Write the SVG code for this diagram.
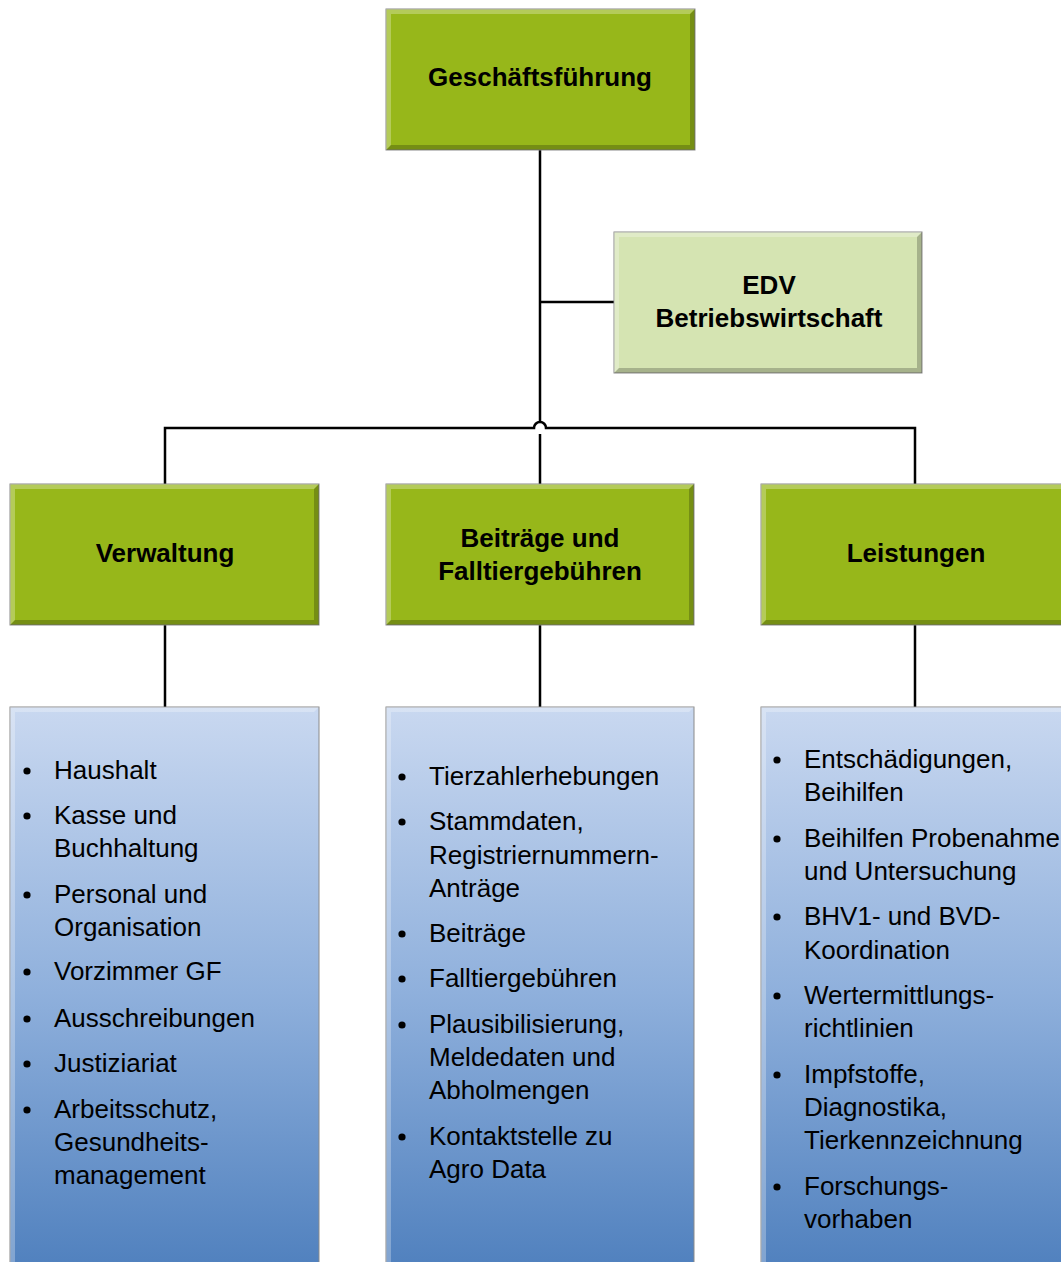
<svg xmlns="http://www.w3.org/2000/svg" width="1061" height="1262" viewBox="0 0 1061 1262">
<defs>
<linearGradient id="blue" x1="0" y1="0" x2="0" y2="1">
<stop offset="0" stop-color="#c9d8f0"/>
<stop offset="0.5" stop-color="#8fb0dc"/>
<stop offset="1" stop-color="#4e7fbd"/>
</linearGradient>
<style>
.g{fill:#97b71a;stroke:#8a8a8a;stroke-width:1}
.l{fill:#d5e4b2;stroke:#8a8a8a;stroke-width:1}
.b{fill:url(#blue);stroke:#8a8a8a;stroke-width:1}
.hi{fill:#ffffff;opacity:0.28}
.sh{fill:#000000;opacity:0.22}
.t{font-family:"Liberation Sans",Arial,sans-serif;font-size:26px;font-weight:bold;fill:#000;text-anchor:middle}
.x{font-family:"Liberation Sans",Arial,sans-serif;font-size:26px;fill:#000}
.c{fill:none;stroke:#000;stroke-width:2.5}
</style>
</defs>
<rect width="1061" height="1262" fill="#fff"/>
<g id="connectors">
<path class="c" d="M540 150 V422 M540 434 V485"/>
<path class="c" d="M540 302 H614"/>
<path class="c" d="M165 485 V428 H534 A6 6 0 0 1 546 428 H915 V485"/>
<path class="c" d="M165 625 V708 M540 625 V708 M915 625 V708"/>
</g>
<g id="n-gf">
<rect class="g" x="386" y="9" width="309" height="141"/>
<path class="hi" d="M386 9 H695 L690 14 H391 V145 L386 150 Z"/>
<path class="sh" d="M695 9 V150 H386 L391 145 H690 V14 Z"/>
<text class="t" x="540" y="86">Geschäftsführung</text>
</g>
<g id="n-edv">
<rect class="l" x="614" y="232" width="308" height="141"/>
<path class="hi" d="M614 232 H922 L917 237 H619 V368 L614 373 Z"/>
<path class="sh" d="M922 232 V373 H614 L619 368 H917 V237 Z" opacity="0.12"/>
<text class="t" x="769" y="294">EDV</text>
<text class="t" x="769" y="327">Betriebswirtschaft</text>
</g>
<g id="n-verw">
<rect class="g" x="10" y="484" width="309" height="141"/>
<path class="hi" d="M10 484 H319 L314 489 H15 V620 L10 625 Z"/>
<path class="sh" d="M319 484 V625 H10 L15 620 H314 V489 Z"/>
<text class="t" x="165" y="562">Verwaltung</text>
</g>
<g id="n-beit">
<rect class="g" x="386" y="484" width="308" height="141"/>
<path class="hi" d="M386 484 H694 L689 489 H391 V620 L386 625 Z"/>
<path class="sh" d="M694 484 V625 H386 L391 620 H689 V489 Z"/>
<text class="t" x="540" y="547">Beiträge und</text>
<text class="t" x="540" y="580">Falltiergebühren</text>
</g>
<g id="n-leist">
<rect class="g" x="761" y="484" width="310" height="141"/>
<path class="hi" d="M761 484 H1071 L1066 489 H766 V620 L761 625 Z"/>
<path class="sh" d="M1071 484 V625 H761 L766 620 H1066 V489 Z"/>
<text class="t" x="916" y="562">Leistungen</text>
</g>
<g id="n-verw-list">
<rect class="b" x="10" y="707" width="309" height="570"/>
<path class="hi" d="M10 707 H319 L314 712 H15 V1270 L10 1275 Z"/>
<g class="x">
<circle cx="27" cy="771" r="3.6"/><text x="54" y="779">Haushalt</text>
<circle cx="27" cy="816" r="3.6"/><text x="54" y="824">Kasse und</text><text x="54" y="857">Buchhaltung</text>
<circle cx="27" cy="895" r="3.6"/><text x="54" y="903">Personal und</text><text x="54" y="936">Organisation</text>
<circle cx="27" cy="972" r="3.6"/><text x="54" y="980">Vorzimmer GF</text>
<circle cx="27" cy="1019" r="3.6"/><text x="54" y="1027">Ausschreibungen</text>
<circle cx="27" cy="1064" r="3.6"/><text x="54" y="1072">Justiziariat</text>
<circle cx="27" cy="1110" r="3.6"/><text x="54" y="1118">Arbeitsschutz,</text><text x="54" y="1151">Gesundheits-</text><text x="54" y="1184">management</text>
</g>
</g>
<g id="n-beit-list">
<rect class="b" x="386" y="707" width="308" height="570"/>
<path class="hi" d="M386 707 H694 L689 712 H391 V1270 L386 1275 Z"/>
<g class="x">
<circle cx="402" cy="777" r="3.6"/><text x="429" y="785">Tierzahlerhebungen</text>
<circle cx="402" cy="822" r="3.6"/><text x="429" y="830">Stammdaten,</text><text x="429" y="864">Registriernummern-</text><text x="429" y="897">Anträge</text>
<circle cx="402" cy="934" r="3.6"/><text x="429" y="942">Beiträge</text>
<circle cx="402" cy="979" r="3.6"/><text x="429" y="987">Falltiergebühren</text>
<circle cx="402" cy="1025" r="3.6"/><text x="429" y="1033">Plausibilisierung,</text><text x="429" y="1066">Meldedaten und</text><text x="429" y="1099">Abholmengen</text>
<circle cx="402" cy="1137" r="3.6"/><text x="429" y="1145">Kontaktstelle zu</text><text x="429" y="1178">Agro Data</text>
</g>
</g>
<g id="n-leist-list">
<rect class="b" x="761" y="707" width="310" height="570"/>
<path class="hi" d="M761 707 H1071 L1066 712 H766 V1270 L761 1275 Z"/>
<g class="x">
<circle cx="777" cy="760" r="3.6"/><text x="804" y="768">Entschädigungen,</text><text x="804" y="801">Beihilfen</text>
<circle cx="777" cy="839" r="3.6"/><text x="804" y="847">Beihilfen Probenahme</text><text x="804" y="880">und Untersuchung</text>
<circle cx="777" cy="917" r="3.6"/><text x="804" y="925">BHV1- und BVD-</text><text x="804" y="959">Koordination</text>
<circle cx="777" cy="996" r="3.6"/><text x="804" y="1004">Wertermittlungs-</text><text x="804" y="1037">richtlinien</text>
<circle cx="777" cy="1075" r="3.6"/><text x="804" y="1083">Impfstoffe,</text><text x="804" y="1116">Diagnostika,</text><text x="804" y="1149">Tierkennzeichnung</text>
<circle cx="777" cy="1187" r="3.6"/><text x="804" y="1195">Forschungs-</text><text x="804" y="1228">vorhaben</text>
</g>
</g>
</svg>
